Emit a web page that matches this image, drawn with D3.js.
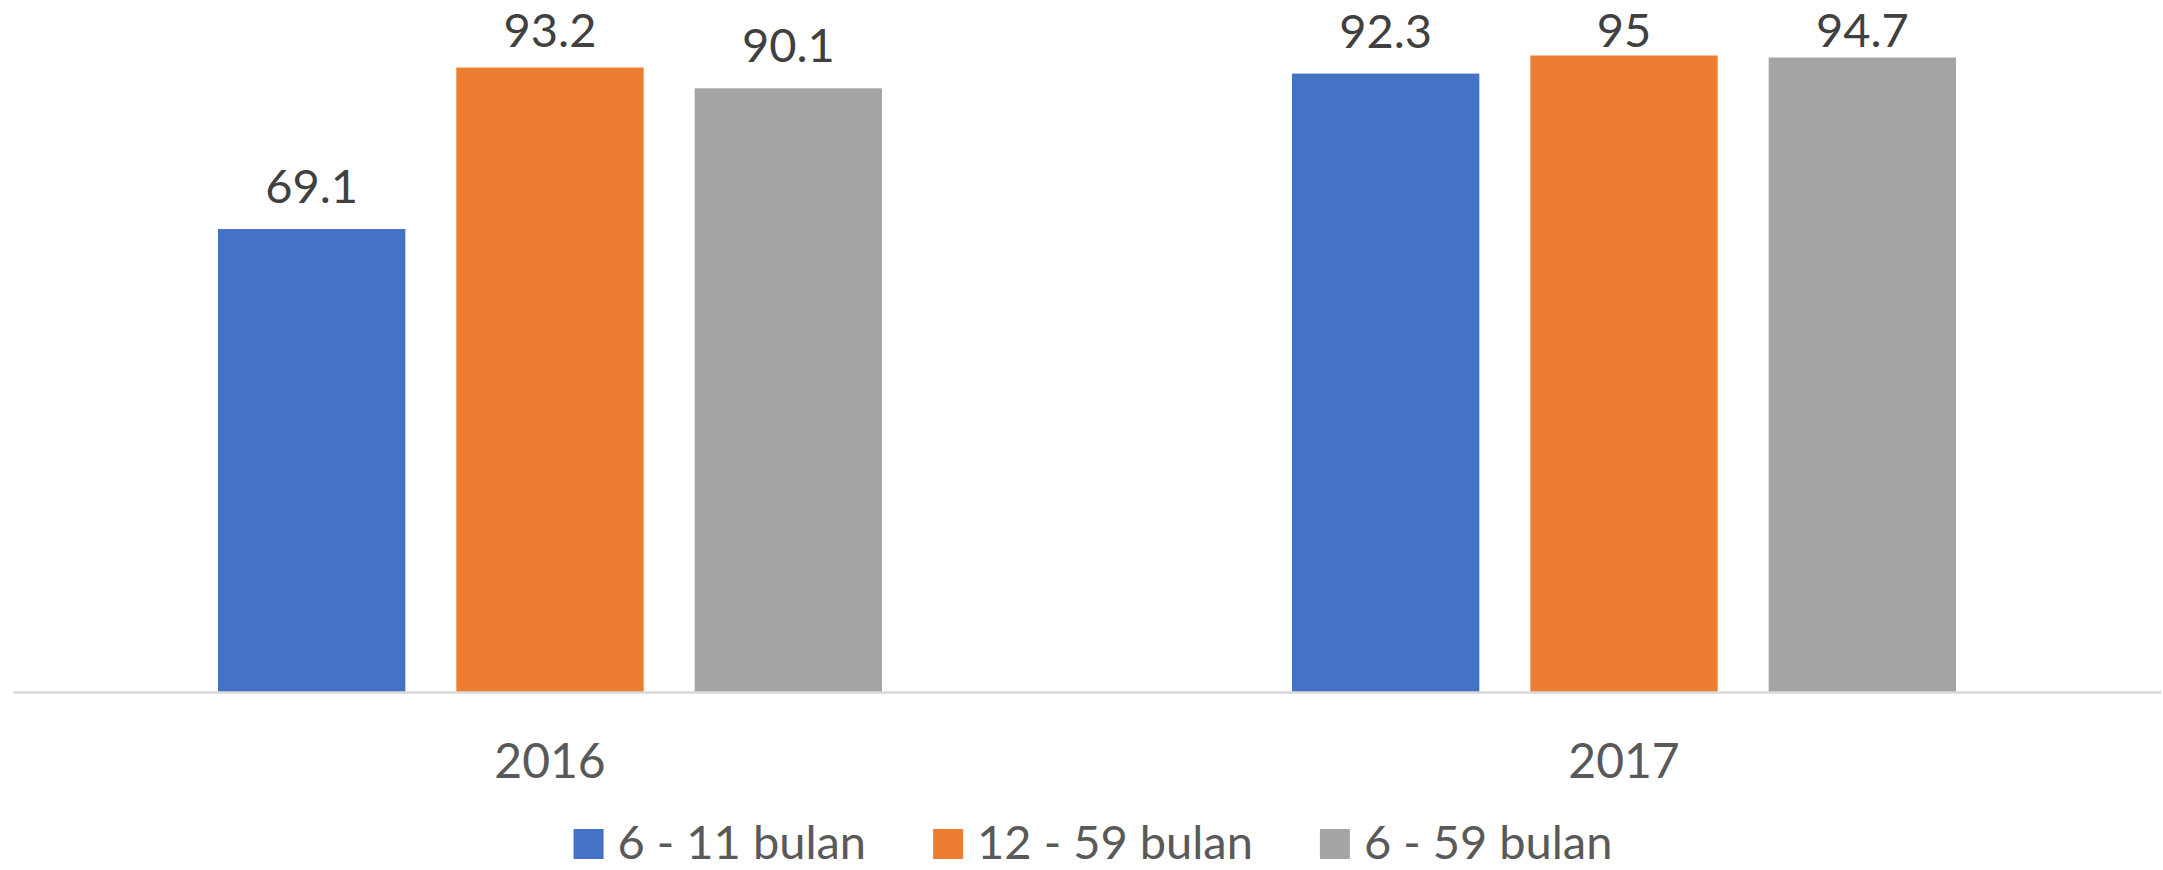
<!DOCTYPE html>
<html>
<head>
<meta charset="utf-8">
<script src="https://cdn.jsdelivr.net/npm/d3@7"></script>
<style>
  html, body { margin: 0; padding: 0; background: #fff; }
  svg { display: block; }
  text { font-family: Lato, "Open Sans", sans-serif; }
</style>
</head>
<body>
<svg id="chart" width="2163" height="870"></svg>
<script>
const categories = ["2016", "2017"];
const seriesNames = ["6 - 11 bulan", "12 - 59 bulan", "6 - 59 bulan"];
const values611 = [69.1, 92.3];
const values1259 = [93.2, 95];
const values659 = [90.1, 94.7];
const seriesValues = [values611, values1259, values659];
const colors = ["#4472C4", "#ED7D31", "#A5A5A5"];
const yDomain = [0, 100];

const W = 2163, H = 870;
const plot = { left: 13, right: 2161, top: 22, bottom: 692 };
const svg = d3.select("#chart");

const x0 = d3.scaleBand().domain(categories).range([plot.left, plot.right]).padding(0);
const groupPad = 205;
const x1 = d3.scaleBand().domain(seriesNames)
  .range([groupPad, x0.bandwidth() - groupPad])
  .paddingInner(0.214).paddingOuter(0);
const y = d3.scaleLinear().domain(yDomain).range([plot.bottom, plot.top]);

const rows = categories.map((c, i) => ({
  cat: c,
  vals: seriesNames.map((s, j) => ({ series: s, value: seriesValues[j][i], color: colors[j] }))
}));

const groups = svg.append("g").selectAll("g").data(rows).join("g")
  .attr("transform", d => `translate(${x0(d.cat)},0)`);

groups.selectAll("rect").data(d => d.vals).join("rect")
  .attr("x", d => x1(d.series))
  .attr("width", x1.bandwidth())
  .attr("y", d => y(d.value))
  .attr("height", d => y(0) - y(d.value))
  .attr("fill", d => d.color);

groups.selectAll("text.val").data(d => d.vals).join("text")
  .attr("class", "val")
  .attr("x", d => x1(d.series) + x1.bandwidth() / 2)
  .attr("y", d => Math.max(y(d.value) - 26, 47))
  .attr("text-anchor", "middle")
  .attr("font-size", 47)
  .attr("fill", "#404040")
  .text(d => d.value);

// x axis
const xAxis = d3.axisBottom(x0).tickSize(0).tickPadding(0);
const axG = svg.append("g").attr("transform", `translate(0,${plot.bottom})`).call(xAxis);
axG.select(".domain").attr("stroke", "#D9D9D9").attr("stroke-width", 2.5);
axG.selectAll(".tick text")
  .attr("font-size", 48)
  .attr("fill", "#595959")
  .attr("font-family", "Lato, sans-serif")
  .attr("dy", null)
  .attr("y", 86);

// legend
const legend = svg.append("g");
const items = legend.selectAll("g").data(seriesNames).join("g");
items.append("rect").attr("width", 30).attr("height", 30).attr("y", -30)
  .attr("fill", (d, i) => colors[i]);
items.append("text").attr("x", 44).attr("y", 0)
  .attr("font-size", 47).attr("fill", "#595959").text(d => d);
let cx = 0;
const offs = [];
items.each(function () {
  offs.push(cx);
  const tw = d3.select(this).select("text").node().getComputedTextLength();
  cx += 44 + tw + 67;
});
const totalW = cx - 67;
const startX = 1093 - totalW / 2;
items.attr("transform", (d, i) => `translate(${startX + offs[i]},859)`);
</script>
</body>
</html>
